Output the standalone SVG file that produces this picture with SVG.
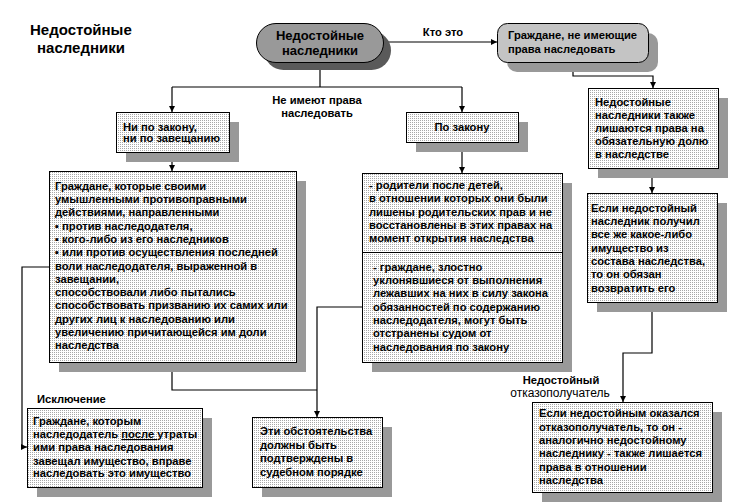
<svg xmlns="http://www.w3.org/2000/svg" width="729" height="504" viewBox="0 0 729 504">
<defs>
<pattern id="dots" width="2" height="2" patternUnits="userSpaceOnUse">
<rect width="2" height="2" fill="#ffffff"/>
<rect width="1" height="1" fill="#a8a8a8"/>
</pattern>
<marker id="arr" markerWidth="7" markerHeight="7" refX="6" refY="3.5" orient="auto" markerUnits="userSpaceOnUse">
<path d="M0,0.5 L6,3.5 L0,6.5 Z" fill="#000"/>
</marker>
</defs>
<style>
text{font-family:"Liberation Sans",Arial,sans-serif;font-weight:bold;font-size:11.2px;fill:#000}
.title{font-size:15px}
.big{font-size:13px}
.norm{font-weight:normal;font-size:12px}
.box{fill:url(#dots);stroke:#000;stroke-width:1}
.sh{fill:#999999}
.ln{fill:none;stroke:#000;stroke-width:1.2}
.mid{text-anchor:middle}
</style>
<rect width="729" height="504" fill="#ffffff"/>

<g id="title">
<text class="title" x="30" y="35">Недостойные</text>
<text class="title" x="37" y="53">наследники</text>
</g>

<g id="connectors">
<path class="ln" d="M383,42 H497" marker-end="url(#arr)"/>
<path class="ln" d="M320,63 V87"/>
<path class="ln" d="M172,87 H462"/>
<path class="ln" d="M172,87 V112" marker-end="url(#arr)"/>
<path class="ln" d="M462,87 V112" marker-end="url(#arr)"/>
<path class="ln" d="M573,62 V76 H653 V88" marker-end="url(#arr)"/>
<path class="ln" d="M652,168 V193" marker-end="url(#arr)"/>
<path class="ln" d="M652,302 V353 H623 V402" marker-end="url(#arr)"/>
<path class="ln" d="M172,152 V171" marker-end="url(#arr)"/>
<path class="ln" d="M462,142 V173" marker-end="url(#arr)"/>
<path class="ln" d="M49,267 H22 V447 H27" marker-end="url(#arr)"/>
<path class="ln" d="M172,362 V390 H317"/>
<path class="ln" d="M363,307 H317 V417" marker-end="url(#arr)"/>
<text class="mid" x="443" y="36">Кто это</text>
<text class="mid" x="317" y="104">Не имеют права</text>
<text class="mid" x="317" y="117">наследовать</text>
<text x="37" y="403">Исключение</text>
<text class="mid" x="561" y="384">Недостойный</text>
<text class="mid norm" x="560" y="397">отказополучатель</text>
</g>

<g id="n-main">
<rect x="264" y="31" width="127" height="39" rx="19.5" fill="#5a5a5a"/>
<rect x="256.5" y="23.5" width="127" height="39" rx="19.5" fill="#999999" stroke="#000"/>
<text class="big mid" x="320" y="39.5">Недостойные</text>
<text class="big mid" x="320" y="54.5">наследники</text>
</g>

<g id="n-citizens">
<rect x="507" y="33" width="151" height="39" rx="10" fill="#999999"/>
<rect x="497.5" y="23.5" width="151" height="39" rx="10" fill="#c4c4c4" stroke="#000"/>
<text x="508" y="39">Граждане, не имеющие</text>
<text x="508" y="53">права наследовать</text>
</g>

<g id="n-neither">
<rect class="sh" x="126" y="122" width="113" height="40"/>
<rect class="box" x="116.5" y="112.5" width="113" height="40"/>
<text x="123" y="131">Ни по закону,</text>
<text x="123" y="142">ни по завещанию</text>
</g>

<g id="n-bylaw">
<rect class="sh" x="416" y="122" width="112" height="30"/>
<rect class="box" x="406.5" y="112.5" width="112" height="30"/>
<text class="mid" x="462" y="131">По закону</text>
</g>

<g id="n-share">
<rect class="sh" x="598" y="98" width="130" height="80"/>
<rect class="box" x="588.5" y="88.5" width="130" height="80"/>
<text x="595" y="106">Недостойные</text>
<text x="595" y="119">наследники также</text>
<text x="595" y="132">лишаются права на</text>
<text x="595" y="145">обязательную долю</text>
<text x="595" y="158">в наследстве</text>
</g>

<g id="n-return">
<rect class="sh" x="597" y="203" width="130" height="109"/>
<rect class="box" x="587.5" y="193.5" width="130" height="109"/>
<text x="591" y="212">Если недостойный</text>
<text x="591" y="225">наследник получил</text>
<text x="591" y="238">все же какое-либо</text>
<text x="591" y="252">имущество из</text>
<text x="591" y="265">состава наследства,</text>
<text x="591" y="278">то он обязан</text>
<text x="591" y="292">возвратить его</text>
</g>

<g id="n-legatee">
<rect class="sh" x="542" y="412" width="180" height="90"/>
<rect class="box" x="532.5" y="402.5" width="180" height="90"/>
<text x="539" y="417">Если недостойным оказался</text>
<text x="539" y="431">отказополучатель, то он -</text>
<text x="539" y="444">аналогично недостойному</text>
<text x="539" y="457">наследнику - также лишается</text>
<text x="539" y="471">права в отношении</text>
<text x="539" y="484">наследства</text>
</g>

<g id="n-acts">
<rect class="sh" x="59" y="181" width="247" height="191"/>
<rect class="box" x="49.5" y="171.5" width="247" height="191"/>
<text x="55" y="190">Граждане, которые своими</text>
<text x="55" y="203">умышленными противоправными</text>
<text x="55" y="216">действиями, направленными</text>
<text x="55" y="230">▪ против наследодателя,</text>
<text x="55" y="243">▪ кого-либо из его наследников</text>
<text x="55" y="256">▪ или против осуществления последней</text>
<text x="55" y="270">воли наследодателя, выраженной в</text>
<text x="55" y="283">завещании,</text>
<text x="55" y="296">способствовали либо пытались</text>
<text x="55" y="309">способствовать призванию их самих или</text>
<text x="55" y="323">других лиц к наследованию или</text>
<text x="55" y="336">увеличению причитающейся им доли</text>
<text x="55" y="349">наследства</text>
</g>

<g id="n-parents">
<rect class="sh" x="372" y="183" width="200" height="189"/>
<rect class="box" x="362.5" y="173.5" width="200" height="189"/>
<line x1="362.5" y1="252.5" x2="562.5" y2="252.5" stroke="#000"/>
<text x="369" y="189">- родители после детей,</text>
<text x="369" y="202">в отношении которых они были</text>
<text x="369" y="216">лишены родительских прав и не</text>
<text x="369" y="229">восстановлены в этих правах на</text>
<text x="369" y="242">момент открытия наследства</text>
<text x="373" y="271">- граждане, злостно</text>
<text x="373" y="284">уклонявшиеся от выполнения</text>
<text x="373" y="297">лежавших на них в силу закона</text>
<text x="373" y="311">обязанностей по содержанию</text>
<text x="373" y="324">наследодателя, могут быть</text>
<text x="373" y="337">отстранены судом от</text>
<text x="373" y="351">наследования по закону</text>
</g>

<g id="n-exception">
<rect class="sh" x="37" y="418" width="175" height="79"/>
<rect class="box" x="27.5" y="408.5" width="175" height="79"/>
<text x="33" y="425">Граждане, которым</text>
<text x="33" y="438">наследодатель <tspan text-decoration="underline">после </tspan>утраты</text>
<text x="33" y="451">ими права наследования</text>
<text x="33" y="465">завещал имущество, вправе</text>
<text x="33" y="477">наследовать это имущество</text>
</g>

<g id="n-court">
<rect class="sh" x="262" y="427" width="130" height="70"/>
<rect class="box" x="252.5" y="417.5" width="130" height="70"/>
<text x="260" y="435">Эти обстоятельства</text>
<text x="260" y="449">должны быть</text>
<text x="260" y="462">подтверждены в</text>
<text x="260" y="476">судебном порядке</text>
</g>
</svg>
